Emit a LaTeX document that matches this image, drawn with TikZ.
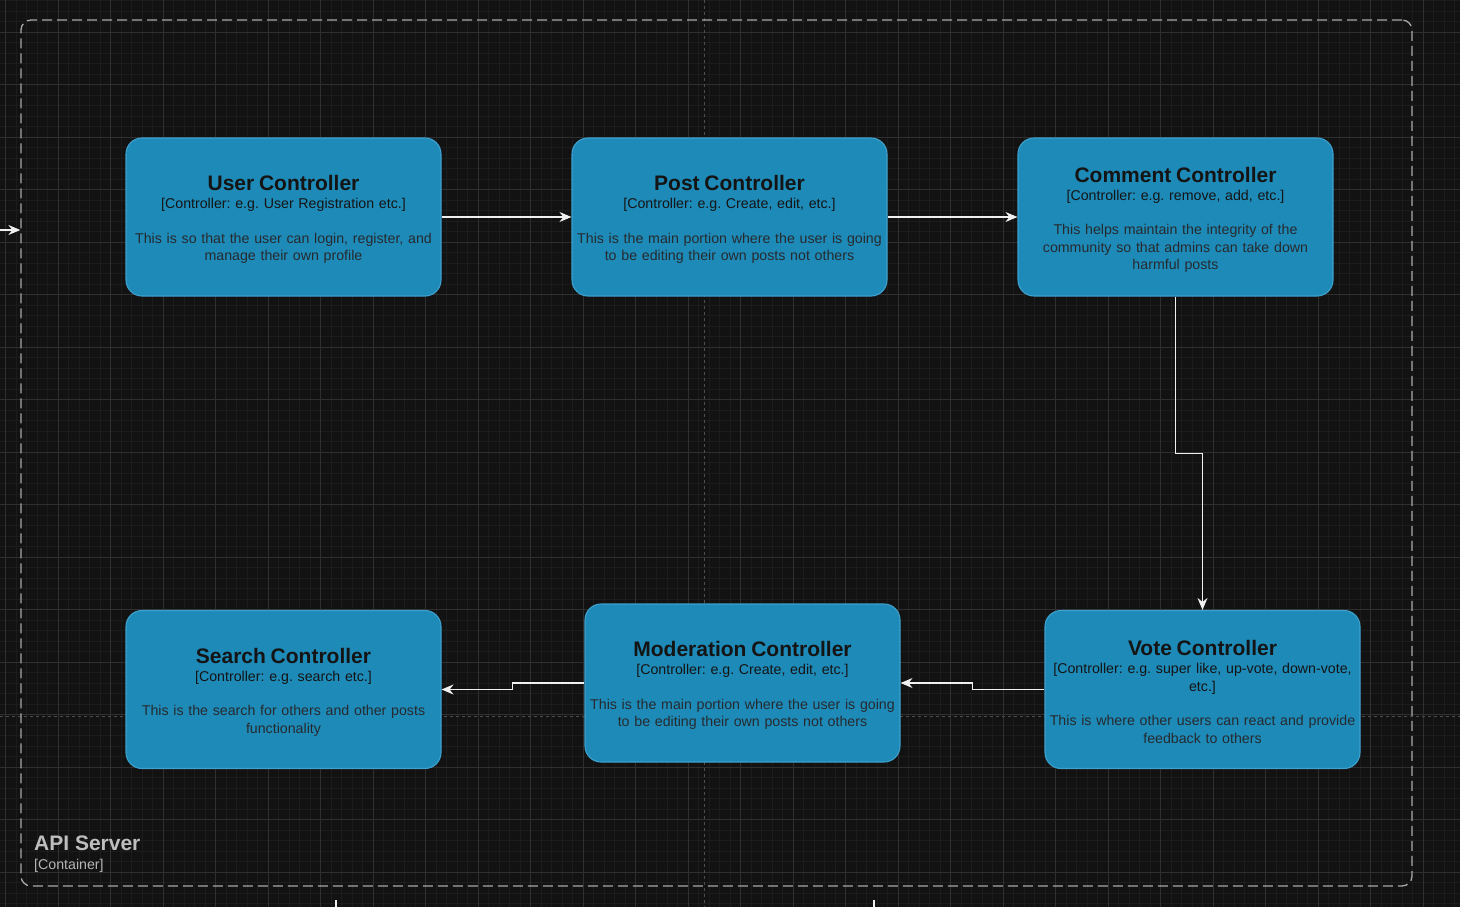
\documentclass[tikz,border=0pt]{standalone}
\usepackage{fontspec}
\setmainfont{Liberation Sans}
\usepackage{tikz}
\usetikzlibrary{arrows.meta}
\frenchspacing
\definecolor{canvas}{RGB}{18,18,18}
\definecolor{minorline}{RGB}{28,28,28}
\definecolor{majorline}{RGB}{47,47,47}
\definecolor{breakline}{RGB}{78,78,78}
\definecolor{frameline}{RGB}{168,168,168}
\definecolor{boxblue}{RGB}{30,138,184}
\definecolor{boxedge}{RGB}{62,160,205}
\definecolor{titleink}{RGB}{20,20,20}
\definecolor{descink}{RGB}{38,42,46}
\definecolor{wire}{RGB}{240,240,240}
\def\ctrl#1#2#3{{\fontsize{21}{21}\selectfont\bfseries\color{titleink}\rule{0pt}{20.5pt}#1}\\[0.5pt]{\color{titleink}#2}\\[17pt]\color{descink}#3}
\tikzset{
  controller/.style={draw=boxedge, line width=1.1pt, fill=boxblue, rounded corners=16pt,
    minimum width=315pt, minimum height=158pt, text width=314pt, inner sep=0pt, align=center,
    font=\fontsize{14.2}{17.5}\selectfont},
  flow/.style={draw=wire, line width=1.3pt, -{Stealth[length=12pt,width=10pt,inset=4pt]}},
  plainwire/.style={draw=wire, line width=1.3pt}
}

\begin{document}
\begin{tikzpicture}[x=1pt, y=-1pt]
			%%%%% START %%%%%
			
			\useasboundingbox (0, 0) rectangle (1460, 907);
			\fill[canvas] (0, 0) rectangle (1460, 907);
			
			% grid
			\foreach \i in {0,...,138} \draw[minorline, line width=0.8pt] ({5.5+10.5*\i}, 0) -- ({5.5+10.5*\i}, 907);
			\foreach \j in {0,...,86} \draw[minorline, line width=0.8pt] (0, {0.8+10.5*\j}) -- (1460, {0.8+10.5*\j});
			\foreach \i in {0,...,27} \draw[majorline, line width=0.9pt] ({5.5+52.5*\i}, 0) -- ({5.5+52.5*\i}, 907);
			\foreach \j in {0,...,17} \draw[majorline, line width=0.9pt] (0, {32.3+52.5*\j}) -- (1460, {32.3+52.5*\j});
			
			% page breaks
			\draw[breakline, line width=0.9pt, dash pattern=on 3pt off 3pt] (704, 0) -- (704, 907);
			\draw[breakline, line width=0.9pt, dash pattern=on 3pt off 3pt] (0, 716) -- (1460, 716);
			
			% container
			\node[draw=frameline, line width=1.3pt, dash pattern=on 10pt off 5pt, rounded corners=10pt,
			      minimum width=1391pt, minimum height=866pt, inner sep=0pt] (apiserver) at (716.5, 453) {};
			\node[anchor=west, align=left, inner sep=0pt, text=frameline!75!white,
			      font=\fontsize{14.2}{19.5}\selectfont] (apilabel) at (34, 854)
			      {{\fontsize{21}{21}\selectfont\bfseries API Server}\\{\color{frameline!85!white}[Container]}};
			
			% controllers
			\node[controller] (user) at (283.5, 217) {\ctrl{User Controller}{[Controller: e.g. User Registration etc.]}{This is so that the user can login, register, and\\ manage their own profile}};
			\node[controller] (post) at (729.5, 217) {\ctrl{Post Controller}{[Controller: e.g. Create, edit, etc.]}{This is the main portion where the user is going\\ to be editing their own posts not others}};
			\node[controller] (comment) at (1175.5, 217) {\ctrl{Comment Controller}{[Controller: e.g. remove, add, etc.]}{This helps maintain the integrity of the\\ community so that admins can take down\\ harmful posts}};
			\node[controller] (search) at (283.5, 689.5) {\ctrl{Search Controller}{[Controller: e.g. search etc.]}{This is the search for others and other posts\\ functionality}};
			\node[controller] (moderation) at (742.5, 683) {\ctrl{Moderation Controller}{[Controller: e.g. Create, edit, etc.]}{This is the main portion where the user is going\\ to be editing their own posts not others}};
			\node[controller] (vote) at (1202.5, 689.5) {\ctrl{Vote Controller}{[Controller: e.g. super like, up-vote, down-vote,\\ etc.]}{This is where other users can react and provide\\ feedback to others}};
			
			% connectors
			\coordinate (inlet) at (0, 230);
			\draw[flow] (inlet) -- (inlet -| apiserver.west);
			\draw[flow] (user.east) -- (post.west);
			\draw[flow] (post.east) -- (comment.west);
			\draw[flow] (comment.south) -- ++(0, 157) -| (vote.north);
			\draw[flow] (vote.west) -- ++(-72, 0) |- (moderation.east);
			\draw[flow] (moderation.west) -- ++(-72, 0) |- (search.east);
			
			\coordinate (outleft) at (336, 900);
			\coordinate (outleftend) at (336, 907);
			\coordinate (outright) at (874, 900);
			\coordinate (outrightend) at (874, 907);
			\draw[plainwire] (outleft) -- (outleftend);
			\draw[plainwire] (outright) -- (outrightend);
			
			%%%%% END %%%%%
		\end{tikzpicture}
\end{document}
